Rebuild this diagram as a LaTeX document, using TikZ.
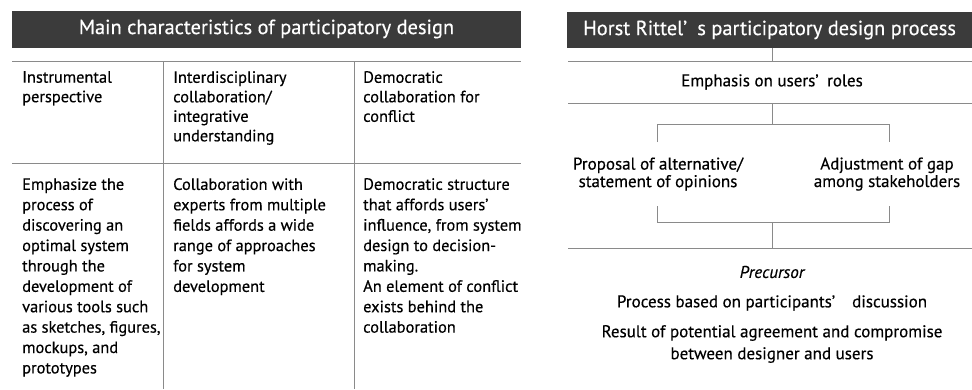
\documentclass[tikz,border=0pt]{standalone}
\usepackage{fontspec}
\setmainfont{PT Sans}[FakeBold=0.4]
\usetikzlibrary{positioning}
\definecolor{barfill}{HTML}{3B3B3B}
\definecolor{rulegray}{HTML}{8A8A8A}

\begin{document}
\begin{tikzpicture}[x=1pt, y=-1pt,
    bar/.style={fill=barfill, text=white, inner sep=0pt, font=\fontsize{20.4}{22}\selectfont},
    cell/.style={anchor=north west, align=left, inner sep=0pt, font=\fontsize{16.4}{19.5}\selectfont},
    body/.style={cell, font=\fontsize{16.4}{20.4}\selectfont},
    txt/.style={align=center, inner sep=0pt, font=\fontsize{17}{22}\selectfont},
    rule/.style={draw=rulegray, line width=0.9pt}]
      \useasboundingbox (0, 0) rectangle (972, 389);

      % left table
      \node[bar, minimum width=509pt, minimum height=37pt] (mainbar) at (266.5, 29) {Main characteristics of participatory design};

      \draw[rule] (12, 61) -- (521, 61);
      \draw[rule] (12, 163) -- (521, 163);
      \draw[rule] (163, 61) -- (163, 389);
      \draw[rule] (354, 61) -- (354, 389);

      \node[cell] (instr) at (22, 71) {Instrumental\\perspective};
      \node[cell] (inter) at (173, 71) {Interdisciplinary\\collaboration/\\integrative\\understanding};
      \node[cell] (democ) at (363, 71) {Democratic\\collaboration for\\conflict};

      \node[body] (instrtext) at (22, 178) {Emphasize the\\process of\\discovering an\\optimal system\\through the\\development of\\various tools such\\as sketches, figures,\\mockups, and\\prototypes};
      \node[body] (intertext) at (173, 178) {Collaboration with\\experts from multiple\\fields affords a wide\\range of approaches\\for system\\development};
      \node[body] (democtext) at (363, 178) {Democratic structure\\that affords users’\\influence, from system\\design to decision-\\making.\\An element of conflict\\exists behind the\\collaboration};

      % right process
      \node[bar, minimum width=405pt, minimum height=36pt] (rittelbar) at (769.5, 30) {Horst Rittel’\enspace s participatory design process};

      \coordinate (top) at (772, 61);
      \coordinate (mid) at (772, 103);
      \coordinate (split) at (772, 124);
      \coordinate (join) at (772, 222);
      \coordinate (base) at (772, 248);

      \draw[rule] (568, 61) -- (972, 61);
      \draw[rule] (568, 103) -- (972, 103);
      \draw[rule] (568, 248) -- (972, 248);

      \node[txt] (roles) at (772, 82) {Emphasis on users’\enspace roles};
      \node[txt, font=\fontsize{17}{17.5}\selectfont] (proposal) at (658, 174) {Proposal of alternative/\\statement of opinions};
      \node[txt, font=\fontsize{17}{17.5}\selectfont] (gap) at (887, 174) {Adjustment of gap\\among stakeholders};
      \node[txt, font=\fontsize{17}{22}\selectfont\itshape] (precursor) at (772, 272) {Precursor};
      \node[txt] (discussion) at (772, 303) {Process based on participants’\enspace\enspace discussion};
      \node[txt] (result) at (772, 344) {Result of potential agreement and compromise\\between designer and users};

      \draw[rule] (rittelbar.south -| top) -- (top);
      \draw[rule] (mid) -- (split);
      \draw[rule] (657, 142) -- (split -| 657, 0) -- (split -| 889, 0) -- (889, 142);
      \draw[rule] (657, 206) -- (join -| 657, 0) -- (join -| 889, 0) -- (889, 206);
      \draw[rule] (join) -- (base);

    \end{tikzpicture}
\end{document}
